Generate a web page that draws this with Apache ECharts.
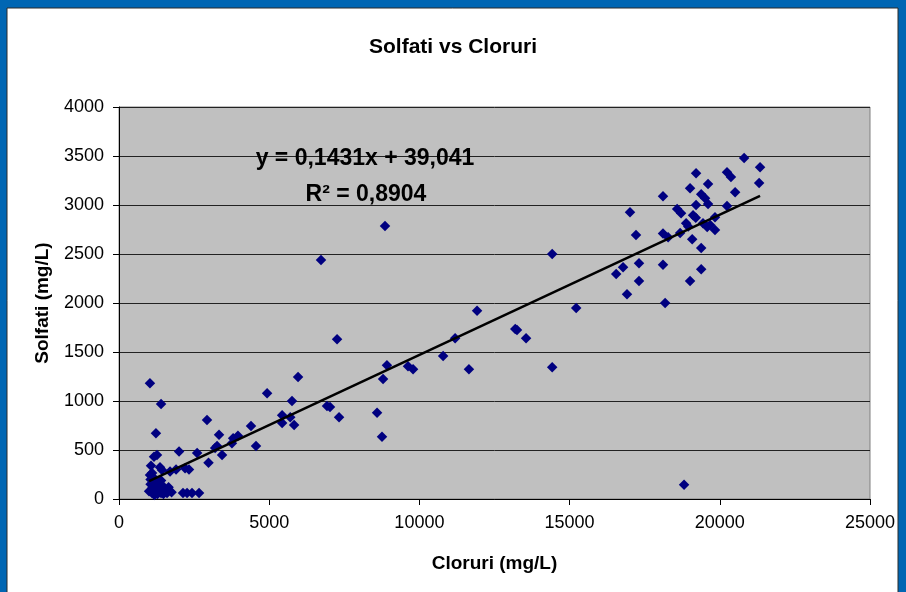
<!DOCTYPE html>
<html>
<head>
<meta charset="utf-8">
<script src="https://cdn.jsdelivr.net/npm/echarts@6/dist/echarts.min.js"></script>
<style>
  html, body { margin: 0; padding: 0; background: #0066b3; }
  #chart { width: 906px; height: 592px; }
</style>
</head>
<body>
<div id="chart"></div>
<script>
// Cloruri (mg/L) - asse x
const cloruri = [
  1030, 1400, 1230, 1265, 1165, 1065, 1100, 1365, 1430, 1700, 1900, 2000, 2200, 2330, 2600,
  2130, 2265, 2430, 2665, 2930, 2980, 3200, 3265, 3330, 3430, 3760, 3800, 3960, 4395, 4560,
  4930, 5430, 5430, 5700, 5760, 5830, 5960, 7260, 6925, 7025, 7325, 1032, 1130,
  1000, 1050, 1100, 1120, 1150, 1180, 1200, 1230, 1260, 1280, 1300, 1330, 1350, 1380, 1400,
  1420, 1450, 1480, 1500, 1550, 1600, 1050, 1150, 1250, 1400, 1750, 1650,
  6725, 8855, 8590, 8755, 8790, 8920, 9620, 9790, 10790, 11190, 11650, 11920, 13190, 13250,
  13550, 14420, 14420, 15220,
  18810, 16550, 16780, 16910, 17010, 17210, 17310, 17310, 18110, 18110, 18280, 18110, 18180,
  18580, 18710, 18680, 18880, 19010, 19080, 19010, 19210, 19210, 19110, 19380, 19510, 19610,
  19610, 19380, 19380, 19440, 19580, 19680, 19840, 19840, 20240, 20370, 20240, 20510, 20810,
  21340, 21310, 18950, 19200
]
// Solfati (mg/L) - asse y
const solfati = [
  1180, 970, 670, 450, 430, 340, 265, 325, 295, 280, 300, 485, 315, 300, 470,
  60, 60, 60, 60, 805, 370, 520, 540, 655, 450, 570, 620, 645, 745, 540,
  1080, 855, 775, 835, 1000, 755, 1245, 1630, 950, 940, 835, 245, 225,
  80, 150, 60, 120, 100, 40, 160, 90, 130, 50, 110, 70, 150, 100, 60,
  130, 90, 50, 120, 80, 60, 200, 190, 180, 190, 70, 120,
  2440, 2785, 880, 635, 1225, 1365, 1355, 1325, 1460, 1640, 1325, 1920, 1735, 1725,
  1640, 2500, 1345, 1950,
  145, 2295, 2365, 2090, 2925, 2695, 2405, 2225, 3090, 2710, 2670, 2390, 2000,
  2960, 2915, 2715, 2815, 3170, 2650, 2225, 3325, 3000, 2895, 3110, 3070, 3215,
  3010, 2560, 2345, 2815, 2775, 2795, 2745, 2875, 3335, 3285, 2990, 3130, 3480,
  3385, 3225, 2780, 2870
]
// linea di tendenza y = 0,1431x + 39,041
const trendX = [1000, 21340]
const trendY = [182, 3093]
const xTicks = [0, 25000, 5000]
const yTicks = [0, 4000, 500]
const equazione = 'y = 0,1431x + 39,041'
const erre2 = 'R² = 0,8904'

const points = cloruri.map((x, i) => [x, solfati[i]])
const trend = trendX.map((x, i) => [x, trendY[i]])

const fontFam = 'Liberation Sans, Arial, sans-serif'

const chart = echarts.init(document.getElementById('chart'))
chart.setOption({
  backgroundColor: '#0066b3',
  animation: false,
  title: {
    text: 'Solfati vs Cloruri',
    left: 'center',
    top: 32,
    textStyle: { fontFamily: fontFam, fontSize: 21, fontWeight: 'bold', color: '#000' },
  },
  graphic: [
    {
      type: 'rect',
      z: -10,
      silent: true,
      shape: { x: 7, y: 8, width: 891, height: 590 },
      style: { fill: '#fff', stroke: '#2a2a2a', lineWidth: 1 },
    },
    {
      type: 'text',
      z: 100,
      style: {
        text: equazione, x: 365, y: 159, align: 'center', verticalAlign: 'middle',
        font: 'bold 23px ' + fontFam, fill: '#000',
      },
    },
    {
      type: 'text',
      z: 100,
      style: {
        text: erre2, x: 366, y: 195, align: 'center', verticalAlign: 'middle',
        font: 'bold 23px ' + fontFam, fill: '#000',
      },
    },
  ],
  grid: {
    left: 119,
    top: 107,
    right: 36,
    bottom: 93,
    show: true,
    backgroundColor: '#c0c0c0',
    borderColor: '#808080',
    borderWidth: 1,
  },
  xAxis: {
    type: 'value',
    min: xTicks[0],
    max: xTicks[1],
    interval: xTicks[2],
    name: 'Cloruri (mg/L)',
    nameLocation: 'middle',
    nameGap: 55,
    nameTextStyle: { fontFamily: fontFam, fontSize: 19, fontWeight: 'bold', color: '#000' },
    axisLine: { show: true, lineStyle: { color: '#000', width: 1 } },
    axisTick: { show: true, length: 6, lineStyle: { color: '#000' } },
    axisLabel: {
      margin: 15, fontFamily: fontFam, fontSize: 18, color: '#000',
      formatter: (v) => String(v),
    },
    splitLine: { show: false },
  },
  yAxis: {
    type: 'value',
    min: yTicks[0],
    max: yTicks[1],
    interval: yTicks[2],
    name: 'Solfati (mg/L)',
    nameLocation: 'middle',
    nameRotate: 90,
    nameGap: 67,
    nameTextStyle: { fontFamily: fontFam, fontSize: 19, fontWeight: 'bold', color: '#000' },
    axisLine: { show: true, lineStyle: { color: '#000', width: 1 } },
    axisTick: { show: true, length: 6, lineStyle: { color: '#000' } },
    axisLabel: {
      margin: 15, fontFamily: fontFam, fontSize: 18, color: '#000',
      formatter: (v) => String(v),
    },
    splitLine: { show: true, lineStyle: { color: '#222', width: 1 } },
  },
  series: [
    {
      name: 'Solfati',
      type: 'scatter',
      symbol: 'diamond',
      symbolSize: 10.5,
      itemStyle: { color: '#000080', opacity: 1 },
      data: points,
      z: 3,
    },
    {
      name: 'Tendenza',
      type: 'line',
      data: trend,
      symbol: 'none',
      lineStyle: { color: '#000', width: 2.5 },
      z: 4,
    },
  ],
})
</script>
</body>
</html>
